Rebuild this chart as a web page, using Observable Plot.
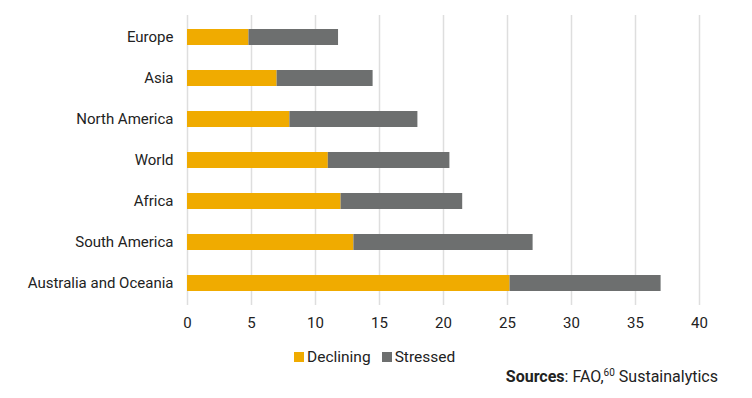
<!DOCTYPE html>
<html>
<head>
<meta charset="utf-8">
<script src="https://cdn.jsdelivr.net/npm/d3@7"></script>
<script src="https://cdn.jsdelivr.net/npm/@observablehq/plot@0.6"></script>
<style>
  html, body { margin: 0; padding: 0; background: #fff; }
  body { width: 752px; height: 398px; position: relative; font-family: Roboto, "Noto Sans", sans-serif; color: #222; overflow: hidden; }
  #chart { position: absolute; left: 0; top: 0; }
  #legend { position: absolute; left: 294px; top: 348px; font-size: 15.5px; display: flex; gap: 11px; align-items: center; }
  #legend span.item { display: flex; align-items: center; }
  #legend span.sw { display: inline-block; width: 10px; height: 10px; margin-right: 3px; }
  #caption { position: absolute; right: 34px; top: 367px; font-size: 16px; }
  #caption sup { font-size: 10px; }
</style>
</head>
<body>
<div id="chart"></div>
<div id="legend"></div>
<div id="caption"><b>Sources</b>: FAO,<sup>60</sup> Sustainalytics</div>
<script>
const regions = ["Europe", "Asia", "North America", "World", "Africa", "South America", "Australia and Oceania"];
const declining = [4.8, 7.0, 8.0, 11.0, 12.0, 13.0, 25.2];
const stressed = [7.0, 7.5, 10.0, 9.5, 9.5, 14.0, 11.8];
const seriesNames = ["Declining", "Stressed"];
const seriesColors = ["#F0AB00", "#6D6F6F"];
const xTicks = [0, 5, 10, 15, 20, 25, 30, 35, 40];

const data = [];
regions.forEach((r, i) => {
  data.push({region: r, type: seriesNames[0], value: declining[i]});
  data.push({region: r, type: seriesNames[1], value: stressed[i]});
});

const plot = Plot.plot({
  width: 752,
  height: 342,
  marginLeft: 187,
  marginRight: 53,
  marginTop: 15,
  marginBottom: 37,
  style: {fontFamily: "Roboto, 'Noto Sans', sans-serif", fontSize: "15px", color: "#222", background: "#fff"},
  x: {domain: [0, 40], ticks: xTicks, tickSize: 0, tickPadding: 13, label: null},
  y: {domain: regions, paddingInner: 0.61, paddingOuter: 0.315, tickSize: 0, tickPadding: 14, label: null},
  color: {domain: seriesNames, range: seriesColors},
  marks: [
    Plot.gridX(xTicks, {stroke: "#dedede", strokeOpacity: 1, strokeWidth: 1.5}),
    Plot.barX(data, {x: "value", y: "region", fill: "type", order: seriesNames}),
    Plot.axisX({ticks: xTicks, tickSize: 0, tickPadding: 12, fontSize: 15, fill: "#222"}),
    Plot.axisY({tickSize: 0, tickPadding: 14, fontSize: 15, fill: "#222"})
  ]
});
document.getElementById("chart").appendChild(plot);

const legend = document.getElementById("legend");
seriesNames.forEach((n, i) => {
  const item = document.createElement("span");
  item.className = "item";
  const sw = document.createElement("span");
  sw.className = "sw";
  sw.style.background = seriesColors[i];
  item.appendChild(sw);
  item.appendChild(document.createTextNode(n));
  legend.appendChild(item);
});
</script>
</body>
</html>
